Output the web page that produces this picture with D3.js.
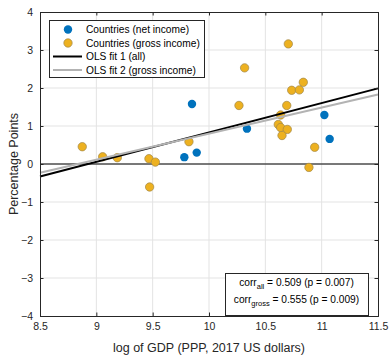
<!DOCTYPE html>
<html>
<head>
<meta charset="utf-8">
<script src="https://cdn.jsdelivr.net/npm/d3@7"></script>
<style>
  body { margin: 0; background: #fff; }
  svg { font-family: "Liberation Sans", Arial, sans-serif; }
</style>
</head>
<body>
<div id="chart"></div>
<script>
// log GDP / percentage points
const netX = [9.849, 9.781, 9.891, 10.337, 11.024, 11.071];
const netY = [1.58, 0.18, 0.30, 0.93, 1.29, 0.66];
const grossX = [8.875, 9.056, 9.186, 9.467, 9.524, 9.473, 9.822, 10.266, 10.704, 10.316,
                10.837, 10.734, 10.802, 10.69, 10.636, 10.615, 10.636, 10.695, 10.648, 10.938, 10.887];
const grossY = [0.455, 0.19, 0.166, 0.14, 0.05, -0.605, 0.587, 1.54, 3.16, 2.53,
                2.15, 1.94, 1.95, 1.54, 1.29, 1.04, 0.96, 0.91, 0.75, 0.44, -0.09];
// fitted lines, endpoints
const fitX = [8.5, 11.5];
const fit1Y = [-0.33, 1.99];
const fit2Y = [-0.23, 1.83];
const xTicks = [8.5, 9, 9.5, 10, 10.5, 11, 11.5];
const yTicks = [-4, -3, -2, -1, 0, 1, 2, 3, 4];
const legendLabels = ["Countries (net income)", "Countries (gross income)", "OLS fit 1 (all)", "OLS fit 2 (gross income)"];
const corrText = [
  { name: "corr", sub: "all", rest: " = 0.509 (p = 0.007)" },
  { name: "corr", sub: "gross", rest: " = 0.555 (p = 0.009)" }
];

const W = 391, H = 355;
const margin = { left: 40, right: 13, top: 12, bottom: 39 };
const blue = "#0072bd", gold = "#edb120", goldEdge = "#a08748";

const svg = d3.select("#chart").append("svg").attr("width", W).attr("height", H);

const x = d3.scaleLinear().domain([8.5, 11.5]).range([margin.left, W - margin.right]);
const y = d3.scaleLinear().domain([-4, 4]).range([H - margin.bottom, margin.top]);

// grid
const grid = svg.append("g");
grid.selectAll(".gx").data(xTicks.slice(1, -1)).enter().append("line")
  .attr("x1", d => x(d)).attr("x2", d => x(d))
  .attr("y1", y(-4)).attr("y2", y(4))
  .attr("stroke", "#e3e3e3").attr("stroke-width", 1);
grid.selectAll(".gy").data(yTicks.slice(1, -1)).enter().append("line")
  .attr("x1", x(8.5)).attr("x2", x(11.5))
  .attr("y1", d => y(d)).attr("y2", d => y(d))
  .attr("stroke", "#e3e3e3").attr("stroke-width", 1);

// zero line
svg.append("line")
  .attr("x1", x(8.5)).attr("x2", x(11.5))
  .attr("y1", y(0)).attr("y2", y(0))
  .attr("stroke", "#000").attr("stroke-width", 1);

// points
svg.append("g").selectAll("circle").data(netX).enter().append("circle")
  .attr("cx", d => x(d)).attr("cy", (d, i) => y(netY[i]))
  .attr("r", 4.2).attr("fill", blue);
svg.append("g").selectAll("circle").data(grossX).enter().append("circle")
  .attr("cx", d => x(d)).attr("cy", (d, i) => y(grossY[i]))
  .attr("r", 4.2).attr("fill", gold).attr("stroke", goldEdge).attr("stroke-width", 0.7);

// fits
const line = d3.line().x(d => x(d[0])).y(d => y(d[1]));
svg.append("path")
  .datum(fitX.map((v, i) => [v, fit1Y[i]]))
  .attr("d", line).attr("stroke", "#000").attr("stroke-width", 2).attr("fill", "none");
svg.append("path")
  .datum(fitX.map((v, i) => [v, fit2Y[i]]))
  .attr("d", line).attr("stroke", "#b3b3b3").attr("stroke-width", 2).attr("fill", "none");

// axes box + ticks
const axisCol = "#262626";
svg.append("g").attr("transform", `translate(0,${y(-4)})`)
  .call(d3.axisBottom(x).tickValues(xTicks).tickSize(-3.5).tickPadding(7).tickFormat(d3.format("")));
svg.append("g").attr("transform", `translate(0,${y(4)})`)
  .call(d3.axisTop(x).tickValues(xTicks).tickSize(-3.5).tickFormat(""));
svg.append("g").attr("transform", `translate(${x(8.5)},0)`)
  .call(d3.axisLeft(y).tickValues(yTicks).tickSize(-3.5).tickPadding(7));
svg.append("g").attr("transform", `translate(${x(11.5)},0)`)
  .call(d3.axisRight(y).tickValues(yTicks).tickSize(-3.5).tickFormat(""));
svg.selectAll(".domain").attr("stroke", axisCol);
svg.selectAll(".tick line").attr("stroke", axisCol);
svg.selectAll(".tick text").attr("fill", axisCol).attr("font-size", 10.5)
  .attr("font-family", "Liberation Sans, Arial, sans-serif");

// axis labels
svg.append("text").attr("x", x(10)).attr("y", 352).attr("text-anchor", "middle")
  .attr("font-size", 12.5).attr("fill", axisCol).text("log of GDP (PPP, 2017 US dollars)");
svg.append("text").attr("transform", `translate(18,${y(0)}) rotate(-90)`).attr("text-anchor", "middle")
  .attr("font-size", 12.5).attr("fill", axisCol).text("Percentage Points");

// legend
const lg = svg.append("g");
lg.append("rect").attr("x", 49.5).attr("y", 20.5).attr("width", 155).attr("height", 57)
  .attr("fill", "#fff").attr("stroke", axisCol).attr("stroke-width", 1);
const rowY = [29.5, 43, 56.5, 70];
lg.append("circle").attr("cx", 68).attr("cy", rowY[0]).attr("r", 4.2).attr("fill", blue);
lg.append("circle").attr("cx", 68).attr("cy", rowY[1]).attr("r", 4.2).attr("fill", gold)
  .attr("stroke", goldEdge).attr("stroke-width", 0.7);
lg.append("line").attr("x1", 53).attr("x2", 82).attr("y1", rowY[2]).attr("y2", rowY[2])
  .attr("stroke", "#000").attr("stroke-width", 2);
lg.append("line").attr("x1", 53).attr("x2", 82).attr("y1", rowY[3]).attr("y2", rowY[3])
  .attr("stroke", "#b3b3b3").attr("stroke-width", 2);
lg.selectAll("text").data(legendLabels).enter().append("text")
  .attr("x", 86).attr("y", (d, i) => rowY[i] + 3.6)
  .attr("font-size", 10.2).attr("fill", "#000").text(d => d);

// correlation box
const cb = svg.append("g");
cb.append("rect").attr("x", 225.5).attr("y", 273.5).attr("width", 143).attr("height", 42)
  .attr("fill", "#fff").attr("stroke", axisCol).attr("stroke-width", 1);
corrText.forEach((c, i) => {
  const t = cb.append("text").attr("x", 296.5).attr("y", 286 + i * 17).attr("text-anchor", "middle")
    .attr("font-size", 10.2).attr("fill", "#000");
  t.append("tspan").text(c.name);
  t.append("tspan").attr("dy", 3).attr("font-size", 7.5).text(c.sub);
  t.append("tspan").attr("dy", -3).text(c.rest);
});
</script>
</body>
</html>
